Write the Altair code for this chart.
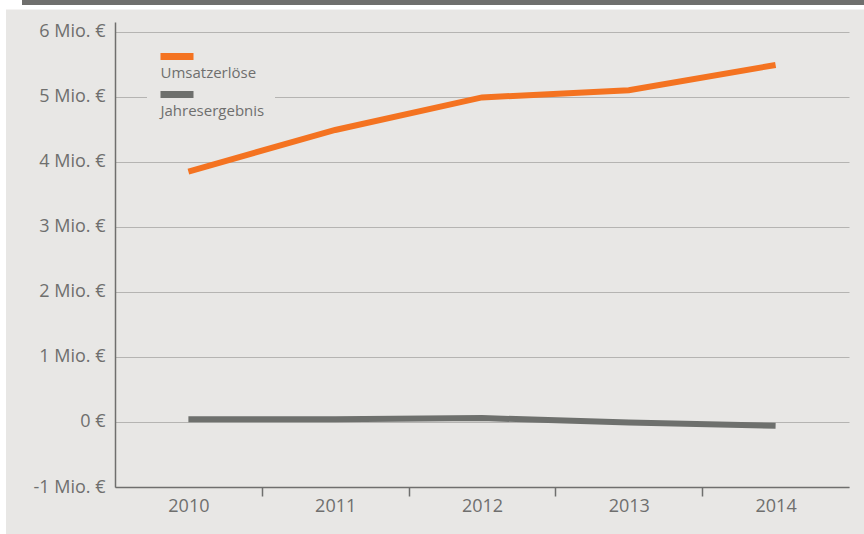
import altair as alt
import pandas as pd

# ---- data ----
years = [2010, 2011, 2012, 2013, 2014]
series_names = ["Umsatzerlöse", "Jahresergebnis"]
umsatz = [3.85, 4.49, 4.99, 5.10, 5.49]        # Mio. €
jahresergebnis = [0.04, 0.04, 0.06, -0.01, -0.06]  # Mio. €
y_ticks = [-1, 0, 1, 2, 3, 4, 5, 6]
x_boundaries = [2009.5, 2010.5, 2011.5, 2012.5, 2013.5]

# ---- styles ----
COLORS = ["#f47321", "#6e706d"]
PANEL = "#e8e7e5"
TEXT = "#6f6f6e"
GRID = "#b5b4b2"
BAND = "#6f6f6d"
FONT = "Open Sans"

df = pd.DataFrame({
    "Jahr": years + years,
    "Wert": umsatz + jahresergebnis,
    "Reihe": [series_names[0]] * len(years) + [series_names[1]] * len(years),
})

x_axis = alt.Axis(
    values=x_boundaries, title=None, grid=False,
    labelExpr="datum.value + 0.5", labelOffset=73.4,
    labelFlush=False, labelOverlap=False,
    tickSize=9, tickWidth=1.5,
    tickColor={"condition": {"test": "datum.value < 2010", "value": "transparent"}, "value": TEXT},
    domainColor=TEXT, domainWidth=1.5,
    labelFont=FONT, labelFontSize=18, labelColor=TEXT, labelPadding=1,
)
y_axis = alt.Axis(
    values=y_ticks, title=None,
    labelExpr="datum.value == 0 ? '0 €' : datum.value + ' Mio. €'",
    ticks=False, tickSize=0, labelPadding=10,
    gridColor=GRID, gridWidth=1,
    domainColor=TEXT, domainWidth=1.5,
    labelFont=FONT, labelFontSize=18, labelColor=TEXT,
)
legend = alt.Legend(
    title=None, orient="none", legendX=32, legendY=21,
    symbolType="M-1,-1H1", symbolSize=1089, symbolStrokeWidth=7,
    labelOffset={"expr": "-36.5"}, labelFont=FONT, labelFontSize=15, labelColor=TEXT,
    padding=10, fillColor=PANEL, rowPadding={"expr": "-1"},
)

lines = alt.Chart(df).mark_line(strokeWidth=6, strokeCap="butt").encode(
    x=alt.X("Jahr:Q", scale=alt.Scale(domain=[2009.5, 2014.5], nice=False, zero=False), axis=x_axis),
    y=alt.Y("Wert:Q", scale=alt.Scale(domain=[-1, 6.15], nice=False, zero=False), axis=y_axis),
    color=alt.Color("Reihe:N", scale=alt.Scale(domain=series_names, range=COLORS), legend=legend),
    order=alt.Order("Jahr:Q"),
)

# page frame decoration (white margins and dark top band)
deco = pd.DataFrame({"k": [0]})
white_left = alt.Chart(deco).mark_rect(color="white").encode(
    x=alt.value(-115), x2=alt.value(-109), y=alt.value(-22), y2=alt.value(512))
white_top = alt.Chart(deco).mark_rect(color="white").encode(
    x=alt.value(-115), x2=alt.value(749), y=alt.value(-22), y2=alt.value(-12.5))
band = alt.Chart(deco).mark_rect(color=BAND).encode(
    x=alt.value(-93), x2=alt.value(749), y=alt.value(-22), y2=alt.value(-17))

chart = alt.layer(lines, white_left, white_top, band).properties(
    width=734, height=465,
    autosize=alt.AutoSizeParams(type="none"),
    padding={"left": 115, "top": 22, "right": 15, "bottom": 47},
    background=PANEL,
).configure_view(stroke=None)

chart.save("out.html", embed_options={"renderer": "svg", "actions": False})
